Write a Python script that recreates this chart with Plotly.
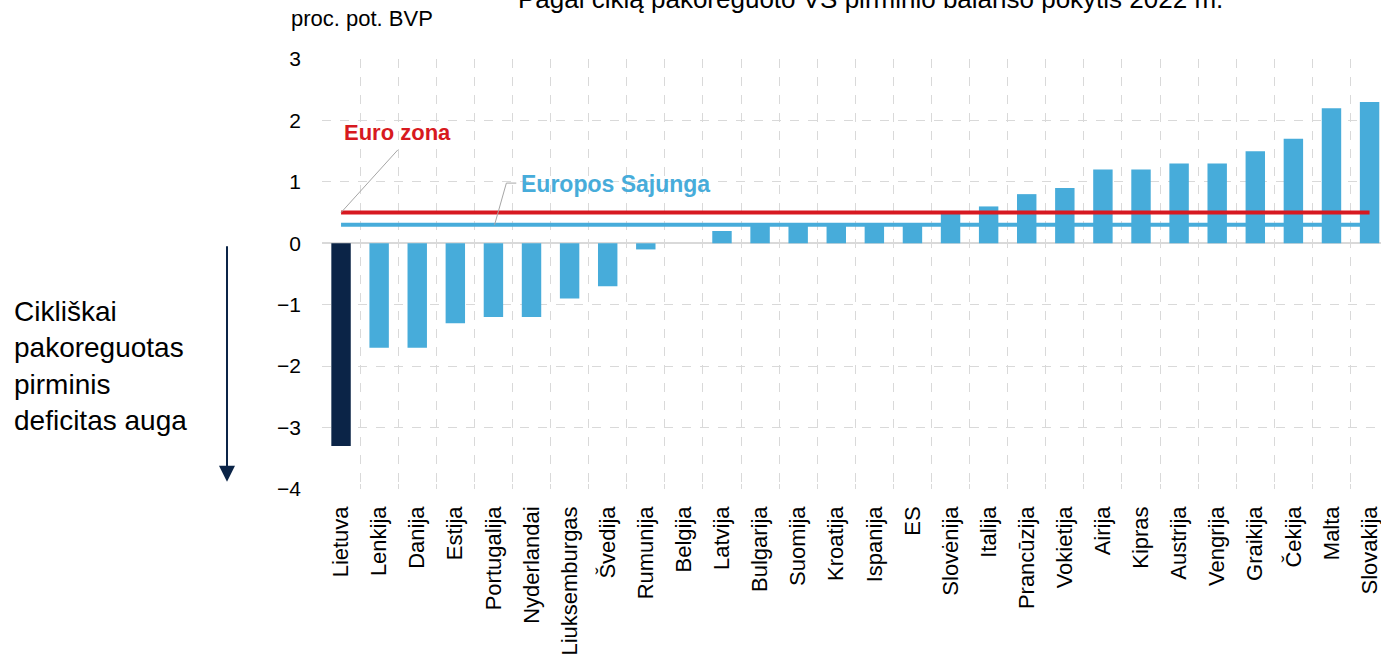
import plotly.graph_objects as go

countries = ["Lietuva", "Lenkija", "Danija", "Estija", "Portugalija", "Nyderlandai",
             "Liuksemburgas", "Švedija", "Rumunija", "Belgija", "Latvija", "Bulgarija",
             "Suomija", "Kroatija", "Ispanija", "ES", "Slovėnija", "Italija", "Prancūzija",
             "Vokietija", "Airija", "Kipras", "Austrija", "Vengrija", "Graikija", "Čekija",
             "Malta", "Slovakija"]
values = [-3.3, -1.7, -1.7, -1.3, -1.2, -1.2, -0.9, -0.7, -0.1, 0.0, 0.2, 0.3,
          0.3, 0.3, 0.3, 0.3, 0.5, 0.6, 0.8, 0.9, 1.2, 1.2, 1.3, 1.3, 1.5, 1.7,
          2.2, 2.3]
euro_area = 0.5
eu = 0.3

NAVY = "#0b2447"
BLUE = "#47acda"
RED = "#d71920"
GRID = "#d9d9d9"
FONT = "Liberation Sans, Arial, sans-serif"

bar_colors = [NAVY if c == "Lietuva" else BLUE for c in countries]

fig = go.Figure()
fig.add_trace(go.Scatter(x=countries, y=[eu] * len(countries), mode="lines",
                         line=dict(color=BLUE, width=4), hoverinfo="skip"))
fig.add_trace(go.Bar(x=countries, y=values, marker=dict(color=bar_colors, line=dict(width=0)),
                     width=0.51))
fig.add_trace(go.Scatter(x=countries, y=[euro_area] * len(countries), mode="lines",
                         line=dict(color=RED, width=4), hoverinfo="skip"))

# leader lines
fig.add_shape(type="line", xref="x", yref="y", x0=0.0, y0=euro_area, x1=1.49, y1=1.52,
              line=dict(color="#a6a6a6", width=1))
fig.add_shape(type="path", xref="x", yref="y",
              path="M 4.03,%s L 4.34,0.98 L 4.6,0.98" % eu,
              line=dict(color="#a6a6a6", width=1))

fig.add_annotation(x=1.49, y=1.81, xref="x", yref="y", text="<b>Euro zona</b>",
                   showarrow=False, font=dict(color=RED, size=22, family=FONT),
                   xanchor="center", yanchor="middle")
fig.add_annotation(x=4.68, y=0.97, xref="x", yref="y", text="<b>Europos Sajunga</b>",
                   showarrow=False, font=dict(color=BLUE, size=23, family=FONT),
                   xanchor="left", yanchor="middle")

fig.add_annotation(x=-0.2927, y=-1.99, xref="paper", yref="y",
                   text="Cikliškai<br>pakoreguotas<br>pirminis<br>deficitas auga",
                   showarrow=False, align="left", xanchor="left", yanchor="middle",
                   font=dict(size=28, color="#000000", family=FONT))
fig.add_annotation(x=-0.0897, y=-3.88, xref="paper", yref="y", ax=0, ay=-237,
                   axref="pixel", ayref="pixel", text="", showarrow=True,
                   arrowhead=2, arrowsize=1.6, arrowwidth=2, arrowcolor=NAVY)

fig.add_annotation(x=-0.0312, y=1.0953, xref="paper", yref="paper", text="proc. pot. BVP",
                   showarrow=False, xanchor="left", yanchor="middle",
                   font=dict(size=22, color="#000000", family=FONT))
fig.add_annotation(x=0.518, y=1.14, xref="paper", yref="paper",
                   text="Pagal ciklą pakoreguoto VS pirminio balanso pokytis 2022 m.",
                   showarrow=False, xanchor="center", yanchor="middle",
                   font=dict(size=26, color="#000000", family=FONT))

fig.update_layout(
    width=1381, height=657,
    margin=dict(l=322, r=0, t=59, b=168),
    paper_bgcolor="white", plot_bgcolor="white",
    showlegend=False, bargap=0.49,
    font=dict(family=FONT, color="#000000"),
    xaxis=dict(type="category", range=[-0.5, 27.3], tickson="boundaries",
               showgrid=True, gridcolor=GRID, griddash="dash", gridwidth=1,
               tickangle=-90, tickfont=dict(size=22), automargin=False,
               ticks="inside", ticklen=5, tickcolor=GRID, showline=False,
               ticklabelstandoff=12, zeroline=False),
    yaxis=dict(range=[-4, 3], dtick=1, tick0=0, showgrid=True, gridcolor=GRID,
               griddash="dash", gridwidth=1, zeroline=True, zerolinecolor=GRID,
               zerolinewidth=1.5, tickfont=dict(size=21), ticklabelstandoff=20,
               showline=False, automargin=False),
)

fig.write_html("out.html", config={"displayModeBar": False},
               post_script="document.body.style.margin='0';document.body.style.overflow='hidden';")
